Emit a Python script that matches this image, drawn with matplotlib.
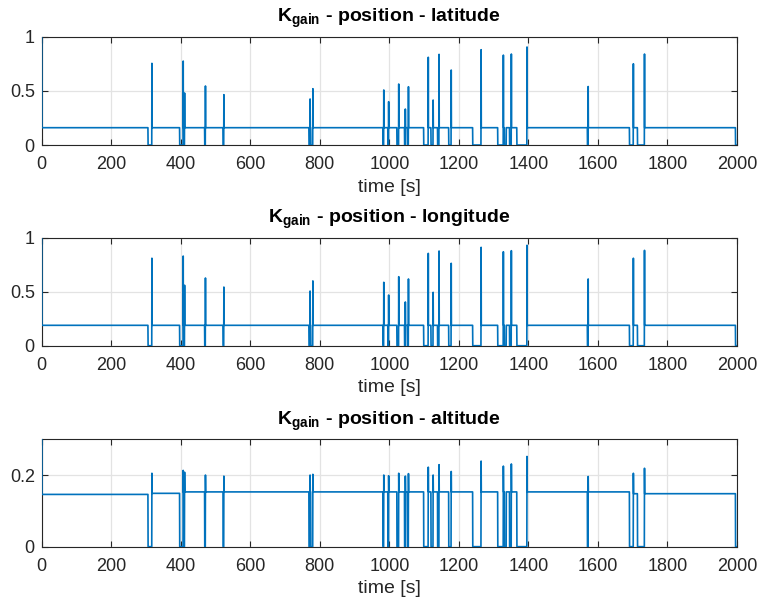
import matplotlib
matplotlib.use("Agg")
import matplotlib.pyplot as plt
import numpy as np

plt.rcParams["font.family"] = ["Liberation Sans", "DejaVu Sans"]
plt.rcParams["mathtext.fontset"] = "custom"
plt.rcParams["mathtext.rm"] = "Liberation Sans"
plt.rcParams["mathtext.bf"] = "Liberation Sans:bold"

# recovery instants (s) where the gain spikes, and when the preceding outage began
EVENT_T = [317, 407, 411, 471, 524, 772, 780, 984, 998, 1027, 1046, 1055,
           1112, 1126, 1143, 1178, 1264, 1328, 1351, 1396, 1572, 1702, 1734]
DROP_START = [306, 397, 409, 469, 522, 769, 774, 982, 996, 1022, 1044, 1052,
              1099, 1120, 1139, 1171, 1240, 1312, 1346, 1367, 1570, 1691, 1714]
# outages without a spike afterwards
EXTRA_DROP_START = [1331, 1996]
EXTRA_DROP_END = [1336, 2000]

LAT_PEAK = [0.754, 0.775, 0.48, 0.545, 0.465, 0.425, 0.52, 0.508, 0.40, 0.563, 0.332, 0.538,
            0.81, 0.415, 0.837, 0.692, 0.88, 0.83, 0.84, 0.905, 0.54, 0.75, 0.84]
LON_PEAK = [0.81, 0.83, 0.56, 0.627, 0.543, 0.506, 0.60, 0.587, 0.469, 0.639, 0.405, 0.618,
            0.855, 0.494, 0.877, 0.763, 0.911, 0.87, 0.88, 0.93, 0.618, 0.81, 0.883]
ALT_PEAK = [0.205, 0.213, 0.208, 0.20, 0.197, 0.20, 0.202, 0.20, 0.198, 0.205, 0.197, 0.204,
            0.222, 0.20, 0.229, 0.21, 0.239, 0.225, 0.231, 0.252, 0.196, 0.205, 0.219]

LAT_BASE = [0.16]
LON_BASE = [0.189]
# altitude steady level changes slightly between outages
ALT_BASE_T = [0, 306, 397, 1691]
ALT_BASE = [0.146, 0.149, 0.153, 0.148]

START_VALUE = 1.0

PANELS = [
    {"name": "latitude", "peak": LAT_PEAK, "base_t": [0], "base": LAT_BASE,
     "ylim": (0, 1), "yticks": [0, 0.5, 1], "yticklabels": ["0", "0.5", "1"]},
    {"name": "longitude", "peak": LON_PEAK, "base_t": [0], "base": LON_BASE,
     "ylim": (0, 1), "yticks": [0, 0.5, 1], "yticklabels": ["0", "0.5", "1"]},
    {"name": "altitude", "peak": ALT_PEAK, "base_t": ALT_BASE_T, "base": ALT_BASE,
     "ylim": (0, 0.3), "yticks": [0, 0.2], "yticklabels": ["0", "0.2"]},
]

LINE_COLOR = "#0072BD"
AXIS_COLOR = "#262626"
DT = 0.5


def build_signal(panel):
    t = np.arange(0, 2000 + DT, DT)
    y = np.zeros_like(t)
    for start, level in zip(panel["base_t"], panel["base"]):
        y[t >= start] = level
    for start, end in zip(DROP_START, EVENT_T):
        y[(t >= start) & (t < end)] = 0.0
    for start, end in zip(EXTRA_DROP_START, EXTRA_DROP_END):
        y[(t >= start) & (t <= end)] = 0.0
    for ev, peak in zip(EVENT_T, panel["peak"]):
        y[int(round(ev / DT))] = peak
    y[0] = START_VALUE
    return t, y


fig = plt.figure(figsize=(7.6, 6.02), dpi=100)
positions = [
    [0.0549, 0.7591, 0.9148, 0.1799],
    [0.0549, 0.4257, 0.9148, 0.1794],
    [0.0549, 0.0919, 0.9148, 0.1784],
]

for pos, panel in zip(positions, PANELS):
    ax = fig.add_axes(pos)
    t, y = build_signal(panel)
    ax.plot(t, y, color=LINE_COLOR, linewidth=1.2, zorder=3)
    ax.set_xlim(0, 2000)
    ax.set_ylim(*panel["ylim"])
    ax.set_xticks(np.arange(0, 2001, 200))
    ax.set_yticks(panel["yticks"])
    ax.set_yticklabels(panel["yticklabels"])
    ax.grid(True, color="#e3e3e3", linewidth=0.9)
    ax.set_axisbelow(True)
    ax.tick_params(direction="in", top=True, right=True, length=4, width=0.8,
                   colors=AXIS_COLOR, labelsize=13)
    ax.tick_params(axis="x", pad=8)
    ax.tick_params(axis="y", pad=5)
    for spine in ax.spines.values():
        spine.set_color(AXIS_COLOR)
        spine.set_linewidth(0.8)
    ax.set_xlabel("time [s]", fontsize=14, color=AXIS_COLOR, labelpad=4)
    ax.set_title(r"$\mathbf{K_{gain}}$ - position - " + panel["name"],
                 fontsize=14, fontweight="bold", color="black", pad=10.5)

fig.savefig("out.png", dpi=100)
